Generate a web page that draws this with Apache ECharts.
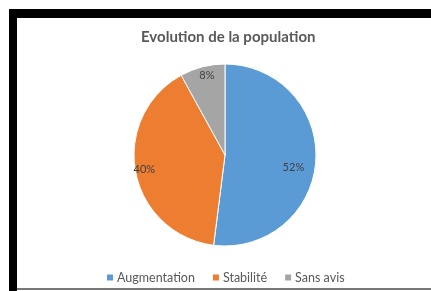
<!DOCTYPE html>
<html><head><meta charset="utf-8">
<script src="https://cdn.jsdelivr.net/npm/echarts@6/dist/echarts.min.js"></script>
<style>html,body{margin:0;padding:0;background:#fff}#c{width:431px;height:291px}</style>
</head><body><div id="c"></div>
<script>
const categories = ['Augmentation', 'Stabilité', 'Sans avis'];
const values = [52, 40, 8];
const colors = ['#5B9BD5', '#ED7D31', '#A5A5A5'];
const labelOffsets = [[20, 9], [-33, 5], [-6, -33]];

const chart = echarts.init(document.getElementById('c'), null, {renderer: 'canvas'});
chart.setOption({
  backgroundColor: '#fff',
  animation: false,
  title: {
    text: 'Evolution de la population',
    left: 136, top: 25,
    textStyle: {fontFamily: 'Lato', fontWeight: 'bold', fontSize: 15, color: '#595959'}
  },
  legend: {
    top: 266, left: 100,
    icon: 'rect', itemWidth: 8, itemHeight: 8, itemGap: 16,
    textStyle: {fontFamily: 'Lato', fontSize: 12.5, color: '#595959', padding: [0, 0, 0, -2]},
    data: categories
  },
  graphic: [
    {type: 'rect', shape: {x: 9, y: 9, width: 422, height: 9}, style: {fill: '#000'}},
    {type: 'rect', shape: {x: 9, y: 9, width: 8, height: 282}, style: {fill: '#000'}},
    {type: 'rect', shape: {x: 17, y: 288, width: 414, height: 2}, style: {fill: '#777'}}
  ],
  series: [{
    type: 'pie',
    center: [225, 155],
    radius: 91,
    startAngle: 90,
    clockwise: true,
    itemStyle: {borderColor: '#fff', borderWidth: 1},
    label: {position: 'inside', formatter: '{c}%', fontFamily: 'Lato', fontSize: 11, color: '#404040'},
    labelLine: {show: false},
    data: categories.map((n, i) => ({
      name: n, value: values[i],
      itemStyle: {color: colors[i]},
      label: {offset: labelOffsets[i]}
    }))
  }]
});
</script></body></html>
